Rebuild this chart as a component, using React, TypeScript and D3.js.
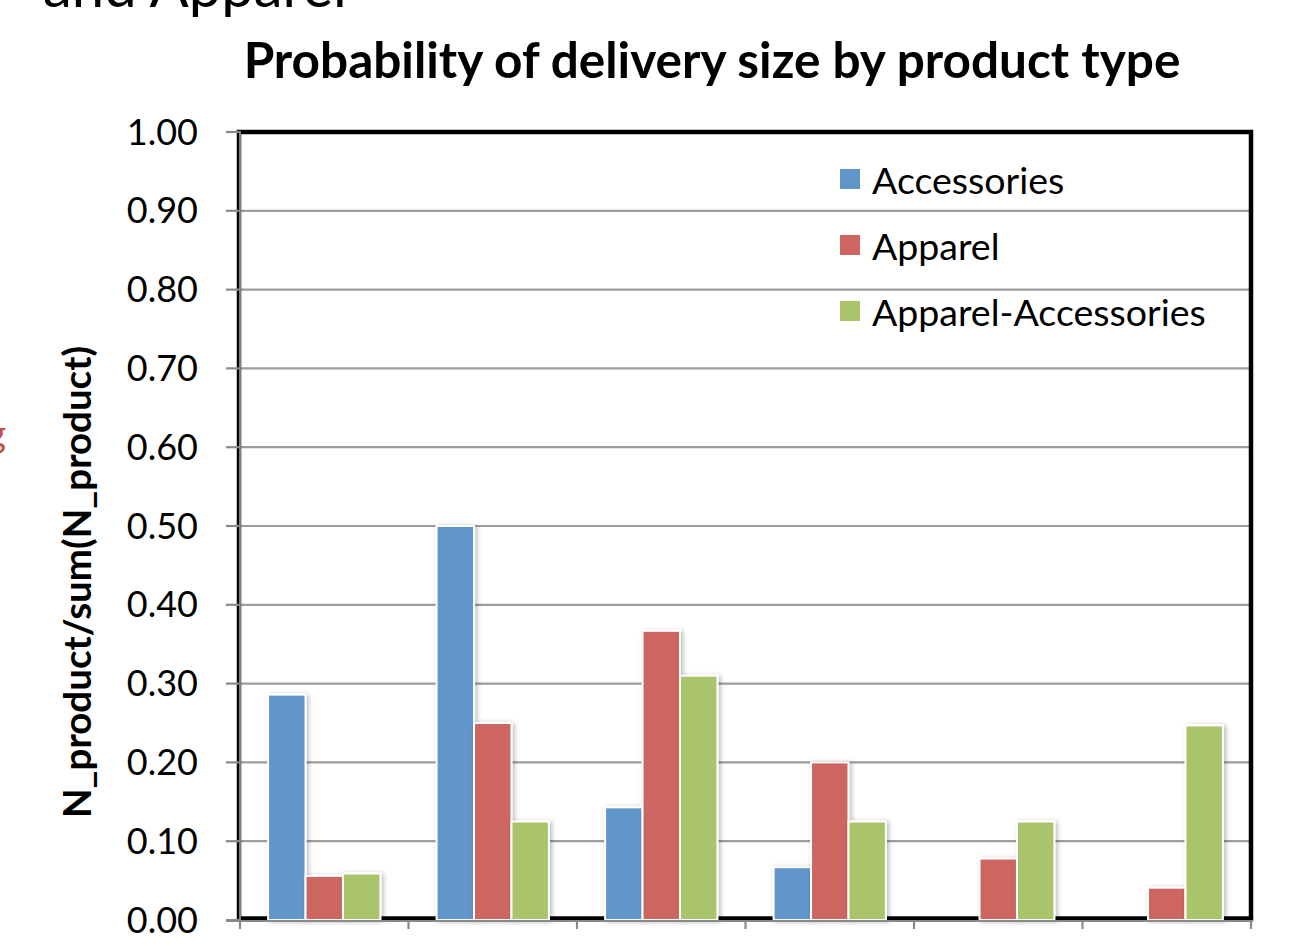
import React from "react";
import * as d3 from "d3";

// Delivery-size buckets (one cluster of bars each)
const deliverySizes = ["1", "2", "3", "4", "5", "6"];

// Share of deliveries per product type
const accessories = [0.286, 0.5, 0.143, 0.067, 0, 0];
const apparel = [0.056, 0.25, 0.367, 0.2, 0.078, 0.041];
const apparelAccessories = [0.059, 0.125, 0.31, 0.125, 0.125, 0.247];

const seriesNames = ["Accessories", "Apparel", "Apparel-Accessories"];
const seriesColors = ["#6196c9", "#cd6660", "#aac46c"];

const yTicks = [0, 0.1, 0.2, 0.3, 0.4, 0.5, 0.6, 0.7, 0.8, 0.9, 1.0];

const title = "Probability of delivery size by product type";
const yAxisTitle = "N_product/sum(N_product)";

const W = 1305;
const H = 946;
const FONT = "Lato, 'Open Sans', sans-serif";

export default function App() {
  const left = 240;
  const right = 1251;
  const top = 132;
  const bottom = 920;

  const x = d3.scaleBand<string>().domain(deliverySizes).range([left, right]).paddingInner(0).paddingOuter(0);
  const y = d3.scaleLinear().domain([0, 1]).range([bottom, top]);
  const fmt = d3.format(".2f");

  const series = [accessories, apparel, apparelAccessories];
  const bw = x.bandwidth() / 4.5;
  const inner = d3
    .scaleBand<number>()
    .domain([0, 1, 2])
    .range([0.75 * bw, 3.75 * bw])
    .paddingInner(0);

  return (
    <svg
      width={W}
      height={H}
      style={{ position: "absolute", left: 0, top: 0, background: "#fff" }}
      fontFamily={FONT}
    >
      <defs>
        <filter id="barShadow" x="-30%" y="-10%" width="160%" height="120%">
          <feDropShadow dx="2" dy="1" stdDeviation="2.5" floodColor="#000" floodOpacity="0.28" />
        </filter>
      </defs>

      {/* slide text partly outside the frame */}
      <text x={43} y={7} fontSize={58} fill="#000">and Apparel</text>
      <text x={6} y={447} fontSize={38} fill="#c0504d" textAnchor="end">g</text>

      {/* chart title */}
      <text x={712} y={78} textAnchor="middle" fontSize={49.5} fontWeight="bold" fill="#000">
        {title}
      </text>

      {/* gridlines */}
      {yTicks.slice(1, -1).map((t) => (
        <line key={"g" + t} x1={left} x2={right} y1={y(t)} y2={y(t)} stroke="#9d9d9d" strokeWidth={2.2} />
      ))}

      {/* plot frame */}
      <rect x={left - 1} y={top} width={right - left + 1} height={bottom - 1.5 - top} fill="none" stroke="#000" strokeWidth={4.5} />

      {/* bars */}
      {deliverySizes.map((c, i) => (
        <g key={c} transform={`translate(${x(c)},0)`}>
          {series.map((s, k) =>
            s[i] > 0 ? (
              <rect
                key={k}
                x={inner(k)}
                y={y(s[i])}
                width={inner.bandwidth()}
                height={bottom - y(s[i])}
                fill={seriesColors[k]}
                stroke="#fff"
                strokeWidth={2}
                filter="url(#barShadow)"
              />
            ) : null
          )}
        </g>
      ))}

      {/* y axis */}
      <line x1={left} x2={left} y1={top - 1} y2={bottom + 1} stroke="#7f7f7f" strokeWidth={2} />
      {yTicks.map((t) => (
        <g key={"t" + t}>
          <line x1={left - 14} x2={left} y1={y(t)} y2={y(t)} stroke="#8a8a8a" strokeWidth={2.2} />
          <text x={198} y={y(t) + 12.5} textAnchor="end" fontSize={36} fill="#000">
            {fmt(t)}
          </text>
        </g>
      ))}

      {/* x axis */}
      <line x1={left - 14} x2={right + 2} y1={bottom + 1} y2={bottom + 1} stroke="#8a8a8a" strokeWidth={2.2} />
      {[...deliverySizes.map((c) => x(c) as number), right].map((bx, i) => (
        <line key={"xt" + i} x1={bx} x2={bx} y1={bottom} y2={bottom + 9} stroke="#8a8a8a" strokeWidth={2.2} />
      ))}

      {/* y axis title */}
      <text
        transform={`translate(91,582) rotate(-90)`}
        textAnchor="middle"
        fontSize={38.5}
        fontWeight="bold"
        fill="#000"
      >
        {yAxisTitle}
      </text>

      {/* legend */}
      {seriesNames.map((n, k) => (
        <g key={n} transform={`translate(840,${169 + k * 66})`}>
          <rect x={0} y={0} width={20} height={20} fill={seriesColors[k]} />
          <text x={32} y={25} fontSize={37.5} fill="#000">
            {n}
          </text>
        </g>
      ))}
    </svg>
  );
}
